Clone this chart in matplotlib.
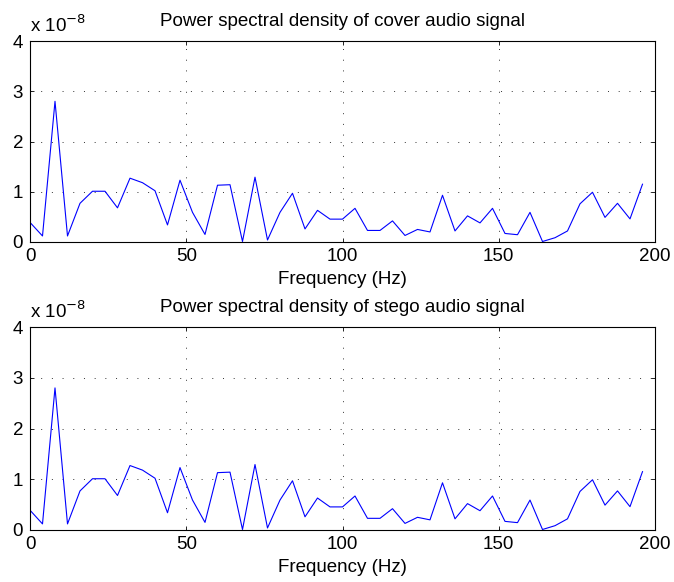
import numpy as np
import matplotlib
matplotlib.use("Agg")
import matplotlib.pyplot as plt

plt.rcParams['font.family'] = ['Liberation Sans', 'DejaVu Sans']

# Frequency bins (Hz)
freq_hz = list(range(0, 200, 4))

# PSD values in units of 1e-8
cover_psd = [0.39, 0.12, 2.80, 0.12, 0.77, 1.01, 1.01, 0.68, 1.27, 1.18,
             1.02, 0.34, 1.23, 0.59, 0.15, 1.13, 1.14, 0.01, 1.29, 0.04,
             0.59, 0.97, 0.26, 0.63, 0.455, 0.455, 0.67, 0.23, 0.23, 0.42,
             0.13, 0.25, 0.20, 0.93, 0.22, 0.52, 0.38, 0.67, 0.17, 0.145,
             0.59, 0.01, 0.085, 0.22, 0.76, 0.99, 0.49, 0.77, 0.46, 1.15]
stego_psd = [0.39, 0.12, 2.80, 0.12, 0.77, 1.01, 1.01, 0.68, 1.27, 1.18,
             1.02, 0.34, 1.23, 0.59, 0.15, 1.13, 1.14, 0.01, 1.29, 0.04,
             0.59, 0.97, 0.26, 0.63, 0.455, 0.455, 0.67, 0.23, 0.23, 0.42,
             0.13, 0.25, 0.20, 0.93, 0.22, 0.52, 0.38, 0.67, 0.17, 0.145,
             0.59, 0.01, 0.085, 0.22, 0.76, 0.99, 0.49, 0.77, 0.46, 1.15]

titles = ["Power spectral density of cover audio signal",
          "Power spectral density of stego audio signal"]
xticks = [0, 50, 100, 150, 200]
yticks = [0, 1, 2, 3, 4]

W, H = 674, 582
fig = plt.figure(figsize=(W / 100, H / 100), dpi=100)

boxes = [(30, 41, 655, 242), (30, 327, 655, 530)]
FS = 13.5
for (l, t, r, b), data, title in zip(boxes, [cover_psd, stego_psd], titles):
    ax = fig.add_axes([l / W, (H - b) / H, (r - l) / W, (b - t) / H])
    ax.plot(freq_hz, data, color=(0, 0, 1), lw=0.8)
    ax.set_xlim(0, 200)
    ax.set_ylim(0, 4)
    ax.set_xticks(xticks)
    ax.set_yticks(yticks)
    ax.tick_params(direction='in', top=True, right=True, labelsize=FS,
                   length=3, width=0.6)
    ax.tick_params(axis='x', pad=4)
    ax.tick_params(axis='y', pad=5)
    ax.grid(True, linestyle=(0, (1, 10)), color='#333333', lw=0.7)
    for s in ax.spines.values():
        s.set_linewidth(0.8)
    ax.set_title(title, fontsize=FS, pad=11)
    ax.set_xlabel("Frequency (Hz)", fontsize=FS, labelpad=5)
    ax.text(0.0, 0.045 + 1.0, r"x 10$^{-8}$", transform=ax.transAxes,
            fontsize=FS, ha='left', va='baseline')

fig.savefig("out.png", dpi=100)
